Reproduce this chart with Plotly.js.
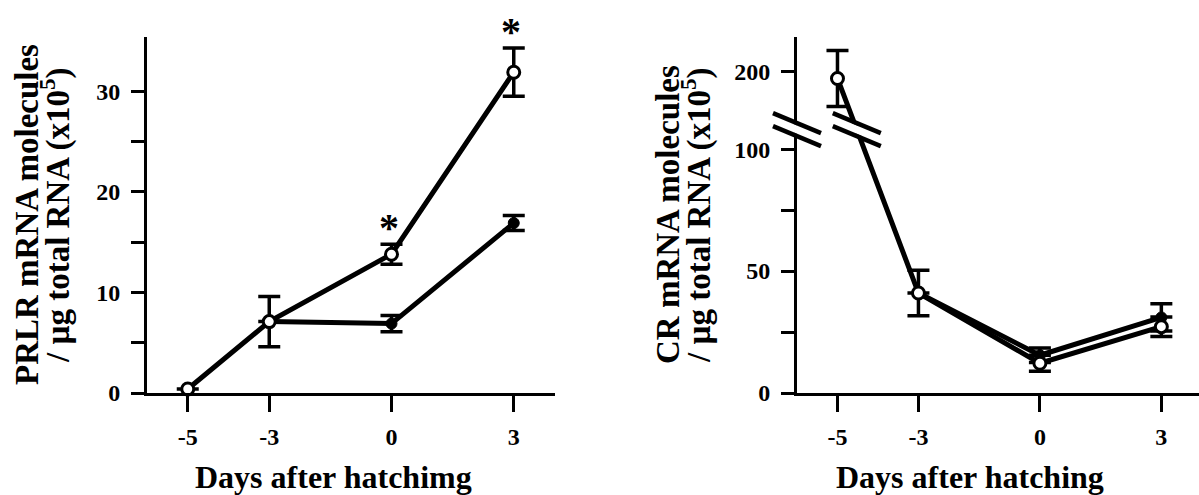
<!DOCTYPE html>
<html>
<head>
<meta charset="utf-8">
<script src="https://cdn.plot.ly/plotly-3.0.1.min.js"></script>
<style>html,body{margin:0;padding:0;background:#fff;}#chart{width:1199px;height:495px;}</style>
</head>
<body>
<div id="chart"></div>
<script>
// ---------- data ----------
const days = [-5, -3, 0, 3];
const daysTreated = [-3, 0, 3];
const xTickVals = [-5, -3, 0, 3];
const xTickText = ['-5', '-3', '0', '3'];

// PRLR (left panel), x10^5 molecules / ug total RNA
const prlrOpen = [0.4, 7.1, 13.8, 31.9];
const prlrOpenErr = [0, 2.5, 1.0, 2.4];
const prlrFilled = [7.1, 6.9, 16.9];
const prlrFilledErr = [0, 0.8, 0.75];
const prlrTickVals = [0, 10, 20, 30];
const prlrTickText = ['0', '10', '20', '30'];
const prlrMinorTicks = [5, 15, 25];
const prlrStars = [0, 3];   // days marked with *

// CR (right panel)
const crOpen = [197, 41, 12.2, 27.2];
const crOpenErr = [11.5, 9.3, 3.3, 4.0];
const crFilled = [41, 15.5, 31];
const crFilledErr = [0, 3.0, 5.6];
const crTickVals = [0, 50, 100, 200];
const crTickText = ['0', '50', '100', '200'];
const crMinorTicks = [25, 75];

// ---------- broken axis mapping (right panel) ----------
const BREAK_LOW = 108;   // last shown value below the break
const BREAK_HIGH = 176;  // first shown value above the break
function brk(v) { return v >= BREAK_HIGH ? v - (BREAK_HIGH - BREAK_LOW) : v; }
const crY = a => a.map(brk);
const errUp = (v, e) => v.map((d, i) => brk(d + e[i]) - brk(d));
const errDn = (v, e) => v.map((d, i) => brk(d) - brk(d - e[i]));

// ---------- styling ----------
const FONT = 'Liberation Serif, Times New Roman, serif';
const W = 1199, H = 495;
const plotTop = 37, plotBot = 393;
const L = {x0: 147, x1: 554.5, xr: [-6, 4], yr: [0, 35.4]};
const R = {x0: 797, x1: 1199, xr: [-6, 3.93], yr: [0, 146]};
const bold = a => a.map(s => '<b>' + s + '</b>');

const lineW = 5;
const openMarker = {symbol: 'circle', size: 12, color: 'white', line: {color: 'black', width: 3}};
const filledMarker = {symbol: 'circle', size: 11, color: 'black', line: {color: 'black', width: 1}};
function eb(up, dn) {
  const o = {type: 'data', array: up, visible: true, color: 'black', thickness: 3.5, width: 11};
  if (dn) { o.symmetric = false; o.arrayminus = dn; }
  return o;
}

const traces = [
  {x: daysTreated, y: prlrFilled, xaxis: 'x', yaxis: 'y', mode: 'lines+markers',
   line: {color: 'black', width: lineW}, marker: filledMarker, error_y: eb(prlrFilledErr), cliponaxis: false},
  {x: days, y: prlrOpen, xaxis: 'x', yaxis: 'y', mode: 'lines+markers',
   line: {color: 'black', width: lineW}, marker: openMarker, error_y: eb(prlrOpenErr), cliponaxis: false},
  {x: daysTreated, y: crY(crFilled), xaxis: 'x2', yaxis: 'y2', mode: 'lines+markers',
   line: {color: 'black', width: lineW}, marker: filledMarker,
   error_y: eb(errUp(crFilled, crFilledErr), errDn(crFilled, crFilledErr)), cliponaxis: false},
  {x: days, y: crY(crOpen), xaxis: 'x2', yaxis: 'y2', mode: 'lines+markers',
   line: {color: 'black', width: lineW}, marker: openMarker,
   error_y: eb(errUp(crOpen, crOpenErr), errDn(crOpen, crOpenErr)), cliponaxis: false}
];

const tickFont = {family: FONT, size: 24, color: 'black'};
function xAxis(p, anchor) {
  return {domain: [p.x0 / W, p.x1 / W], range: p.xr, anchor: anchor,
    showline: true, linecolor: 'black', linewidth: 3, showgrid: false, zeroline: false,
    ticks: 'outside', ticklen: 16, tickwidth: 3, tickcolor: 'black',
    tickmode: 'array', tickvals: xTickVals, ticktext: bold(xTickText), ticklabelstandoff: 4,
    tickfont: tickFont, fixedrange: true};
}
function yAxis(p, anchor, tv, tt, minor) {
  return {domain: [1 - plotBot / H, 1 - plotTop / H], range: p.yr, anchor: anchor,
    showline: true, linecolor: 'black', linewidth: 3, showgrid: false, zeroline: false,
    ticks: 'outside', ticklen: 13, tickwidth: 3, tickcolor: 'black',
    tickmode: 'array', tickvals: tv, ticktext: bold(tt), ticklabelstandoff: 6,
    minor: {tickmode: 'array', tickvals: minor, ticks: 'outside', ticklen: 13, tickwidth: 3, tickcolor: 'black', showgrid: false},
    tickfont: tickFont, fixedrange: true};
}

// ---------- axis-break decorations (right panel) ----------
const pw = R.x1 - R.x0, ph = plotBot - plotTop;
function fx(x) { return (x - R.xr[0]) / (R.xr[1] - R.xr[0]); }
function fy(y) { return (y - R.yr[0]) / (R.yr[1] - R.yr[0]); }
function breakMark(xv, yv) {
  const cx = fx(xv), cy = fy(yv);
  const hx = 24 / pw, hy = 10 / ph, off = 6.5 / ph, wx = 21 / pw, wy = 8.75 / ph;
  const base = {type: 'line', xref: 'x2 domain', yref: 'y2 domain', layer: 'above'};
  return [
    Object.assign({}, base, {x0: cx - wx, y0: cy + wy, x1: cx + wx, y1: cy - wy, line: {color: 'white', width: 8}}),
    Object.assign({}, base, {x0: cx - hx, y0: cy + hy + off, x1: cx + hx, y1: cy - hy + off, line: {color: 'black', width: 4.5}}),
    Object.assign({}, base, {x0: cx - hx, y0: cy + hy - off, x1: cx + hx, y1: cy - hy - off, line: {color: 'black', width: 4.5}})
  ];
}
const breakY = 108;
// where the open-circle CR line crosses the break level
const t0 = brk(crOpen[0]), t1 = brk(crOpen[1]);
const crossX = days[0] + (days[1] - days[0]) * (t0 - breakY) / (t0 - t1);
const shapes = [].concat(breakMark(R.xr[0], breakY), breakMark(crossX, breakY));

// ---------- annotations ----------
const ann = [];
prlrStars.forEach(d => {
  const i = days.indexOf(d);
  ann.push({x: d, y: prlrOpen[i] + prlrOpenErr[i], xref: 'x', yref: 'y', text: '<b>*</b>', showarrow: false,
    yanchor: 'bottom', yshift: -8, xshift: -3, font: {family: FONT, size: 40, color: 'black'}});
});
function t(text, x, y, angle, size) {
  return {text: '<b>' + text + '</b>', x: x / W, y: 1 - y / H, xref: 'paper', yref: 'paper', showarrow: false,
    textangle: angle, xanchor: 'center', yanchor: 'middle',
    font: {family: FONT, size: size, color: 'black'}};
}
ann.push(t('PRLR mRNA molecules', 27, 215, -90, 33));
ann.push(t('/ µg total RNA (x10<sup>5</sup>)', 55, 215, -90, 33));
ann.push(t('Days after hatchimg', 333, 477, 0, 32));
ann.push(t('CR mRNA molecules', 668, 215, -90, 33));
ann.push(t('/ µg total RNA (x10<sup>5</sup>)', 696, 215, -90, 33));
ann.push(t('Days after hatching', 970, 477, 0, 32));

const layout = {
  width: W, height: H, margin: {l: 0, r: 0, t: 0, b: 0},
  paper_bgcolor: 'white', plot_bgcolor: 'white', showlegend: false,
  xaxis: xAxis(L, 'y'), yaxis: yAxis(L, 'x', prlrTickVals, prlrTickText, prlrMinorTicks),
  xaxis2: xAxis(R, 'y2'), yaxis2: yAxis(R, 'x2', crTickVals.map(brk), crTickText, crMinorTicks),
  shapes: shapes, annotations: ann
};

Plotly.newPlot('chart', traces, layout, {staticPlot: true, displayModeBar: false});
</script>
</body>
</html>
